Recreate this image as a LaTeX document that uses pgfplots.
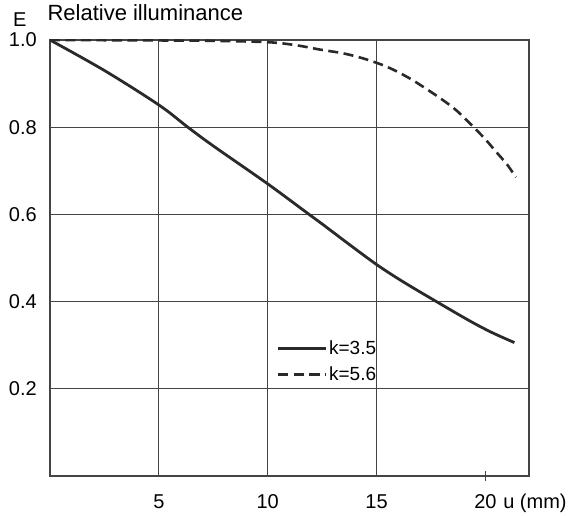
\documentclass[border=0pt]{standalone}
\usepackage{pgfplots}
\pgfplotsset{compat=1.18}
\usepackage{fontspec}
\setmainfont{Liberation Sans}
\definecolor{ink}{HTML}{2A2A2A}
\definecolor{gridc}{HTML}{444444}
\newcommand{\fs}{\fontsize{20}{24}\selectfont}
\pgfplotsset{
  solidleg/.style={legend image code/.code={\path (0pt,0pt) -- (48pt,0pt); \draw[##1] (0pt,0pt) -- (38pt,0pt);}},
  dashleg/.style={legend image code/.code={\path (0pt,0pt) -- (48pt,0pt); \draw[##1, line width=2.6pt, dash pattern=on 10pt off 6pt] (0pt,0pt) -- (42pt,0pt);}},
}
\begin{document}
\begin{tikzpicture}
\begin{axis}[
  scale only axis, width=479pt, height=436pt,
  xmin=0, xmax=22, ymin=0, ymax=1,
  axis line style={gridc, line width=1.3pt},
  xtick={5,10,15}, ytick={0.2,0.4,0.6,0.8,1.0},
  xtick pos=bottom, ytick pos=left,
  grid=major, major grid style={gridc, line width=1.1pt},
  major tick length=0pt,
  extra x ticks={20},
  extra x tick style={grid=none, major tick length=10pt, tick align=center,
     tick style={gridc, line width=1.1pt}, xticklabel style={yshift=5pt}},
  every tick label/.append style={font=\fs},
  xticklabel style={anchor=base, yshift=-32pt, inner sep=0pt},
  yticklabel style={anchor=east, inner sep=0pt, xshift=-13pt,
     /pgf/number format/fixed, /pgf/number format/fixed zerofill, /pgf/number format/precision=1},
  /pgf/number format/assume math mode=true,
  title={\fs\raisebox{-6pt}{E}\hspace{21pt}{\fontsize{22}{26}\selectfont Relative illuminance}},
  title style={at={(axis description cs:0,1)}, anchor=base west, xshift=-37pt, yshift=13pt, inner sep=0pt},
  xlabel={u (mm)},
  xlabel style={at={(axis description cs:0.946,0)}, anchor=base west, yshift=-32pt, inner sep=0pt, font=\fs},
  legend style={at={(axis cs:10.41,0.314)}, anchor=north west, draw=none, fill=none,
     font=\fontsize{19}{22}\selectfont, inner sep=0pt,
     nodes={inner sep=1.5pt}, row sep=8pt},
  legend cell align=right,
]
\addplot[ink, line width=2.8pt, smooth, tension=0.55, solidleg] coordinates {
 (0,1.0) (2.5,0.930) (5,0.851) (6.33,0.800) (7.5,0.757) (10,0.670) (11.9,0.600)
 (12.5,0.578) (13.75,0.531) (15,0.485) (16.2,0.446) (17.75,0.400) (19.27,0.356)
 (20.3,0.329) (21.33,0.306)
};
\addlegendentry{k=3.5}
\addplot[ink, line width=2.6pt, dash pattern=on 10pt off 5.5pt, smooth, tension=0.55, dashleg] coordinates {
 (0,1.0) (5,0.999) (7.5,0.998) (10,0.995) (11.3,0.988) (12.4,0.978) (13.5,0.969)
 (14.5,0.956) (15.5,0.938) (16.45,0.914) (17.25,0.889) (18.05,0.862) (18.7,0.837)
 (19.5,0.798) (20,0.772) (20.5,0.743) (21,0.714) (21.4,0.685)
};
\addlegendentry{k=5.6}
\end{axis}
\pgfresetboundingbox
\path (current axis.south west) ++(-50pt,-39pt) rectangle ++(584pt,515pt);
\end{tikzpicture}
\end{document}
